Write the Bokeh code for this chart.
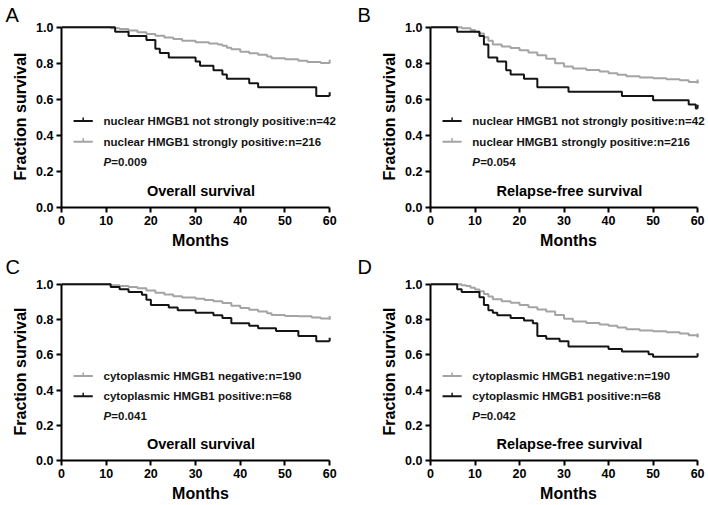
from bokeh.plotting import figure
from bokeh.layouts import gridplot
from bokeh.models import Range1d, FixedTicker, PrintfTickFormatter
from bokeh.core.properties import value
from bokeh.embed import file_html
from bokeh.resources import INLINE

# ---------------- data ----------------
month_ticks = [0, 10, 20, 30, 40, 50, 60]
surv_ticks = [0.0, 0.2, 0.4, 0.6, 0.8, 1.0]

# Panel A: overall survival, nuclear HMGB1
a_black_t = [0, 12, 15, 19, 21, 22, 24, 30, 31, 34, 36, 37, 42, 44, 57, 60]
a_black_s = [1.0, 0.976, 0.952, 0.929, 0.881, 0.857, 0.833, 0.810, 0.786, 0.762, 0.738, 0.714, 0.690, 0.667, 0.619, 0.619]
a_gray_t = [0, 11, 13, 15, 17, 19, 21, 23, 25, 27, 30, 33, 35, 36, 37, 38, 40, 42, 44, 46, 47, 50, 53, 55, 58, 60]
a_gray_s = [1.0, 0.995, 0.99, 0.982, 0.973, 0.963, 0.953, 0.943, 0.935, 0.925, 0.917, 0.91, 0.905, 0.897, 0.887, 0.878, 0.865, 0.856, 0.848, 0.838, 0.828, 0.823, 0.815, 0.808, 0.802, 0.80]

# Panel B: relapse-free survival, nuclear HMGB1
b_black_t = [0, 6, 11, 12, 13, 15, 17, 18, 21, 24, 31, 43, 50, 58, 59.6, 60]
b_black_s = [1.0, 0.976, 0.952, 0.905, 0.833, 0.810, 0.762, 0.738, 0.714, 0.667, 0.643, 0.619, 0.595, 0.571, 0.55, 0.55]
b_gray_t = [0, 7, 9, 10, 11, 12, 13, 14, 16, 18, 20, 22, 24, 26, 28, 30, 32, 35, 38, 40, 42, 44, 47, 50, 53, 56, 58, 60]
b_gray_s = [1.0, 0.995, 0.985, 0.975, 0.965, 0.945, 0.925, 0.905, 0.893, 0.885, 0.872, 0.86, 0.845, 0.825, 0.80, 0.782, 0.772, 0.763, 0.755, 0.745, 0.737, 0.728, 0.722, 0.717, 0.712, 0.706, 0.697, 0.69]

# Panel C: overall survival, cytoplasmic HMGB1
c_black_t = [0, 11, 13, 15, 18, 19, 20, 24, 26, 30, 34, 36, 38, 42, 44, 48, 53, 57, 60]
c_black_s = [1.0, 0.985, 0.971, 0.956, 0.941, 0.912, 0.882, 0.868, 0.853, 0.838, 0.824, 0.809, 0.779, 0.765, 0.750, 0.735, 0.706, 0.676, 0.676]
c_gray_t = [0, 11, 13, 15, 17, 19, 21, 23, 25, 27, 30, 32, 34, 36, 38, 40, 42, 44, 46, 47, 50, 53, 56, 58, 60]
c_gray_s = [1.0, 0.995, 0.99, 0.984, 0.977, 0.965, 0.952, 0.942, 0.932, 0.925, 0.918, 0.91, 0.903, 0.893, 0.878, 0.865, 0.855, 0.846, 0.835, 0.825, 0.82, 0.818, 0.812, 0.806, 0.80]

# Panel D: relapse-free survival, cytoplasmic HMGB1
d_black_t = [0, 6, 7, 11, 12, 13, 14, 15, 18, 21, 23, 24, 26, 29, 31, 40, 43, 49, 50, 60]
d_black_s = [1.0, 0.971, 0.956, 0.926, 0.882, 0.853, 0.838, 0.824, 0.809, 0.794, 0.779, 0.706, 0.691, 0.676, 0.647, 0.632, 0.618, 0.603, 0.588, 0.588]
d_gray_t = [0, 7, 8, 9, 10, 11, 12, 13, 14, 16, 18, 20, 22, 24, 26, 28, 30, 32, 35, 38, 40, 42, 44, 47, 50, 53, 56, 58, 60]
d_gray_s = [1.0, 0.995, 0.99, 0.98, 0.97, 0.96, 0.945, 0.93, 0.915, 0.903, 0.895, 0.882, 0.87, 0.857, 0.845, 0.825, 0.805, 0.788, 0.78, 0.772, 0.765, 0.755, 0.745, 0.738, 0.733, 0.728, 0.72, 0.71, 0.70]

nuc_labels = ["nuclear HMGB1 not strongly positive:n=42", "nuclear HMGB1 strongly positive:n=216"]
cyto_labels = ["cytoplasmic HMGB1 negative:n=190", "cytoplasmic HMGB1 positive:n=68"]
p_values = ["=0.009", "=0.054", "=0.041", "=0.042"]
titles = ["Overall survival", "Relapse-free survival", "Overall survival", "Relapse-free survival"]
letters = ["A", "B", "C", "D"]

# ---------------- style ----------------
BLACK = "#141414"
GRAY = "#a4a4a4"
FONT = "Liberation Sans"
LEG_ROWS = [0.48, 0.365]
P_ROW = 0.255
LEG_X0, LEG_X1 = 2.7, 7.0
TEXT_X = 9.4
TITLE_X, TITLE_Y = 31.2, 0.092


def panel(letter, letter_off, letter_valign, letter_standoff, rows, pval, title,
          width, height, bl, br, bt, bb, x_end):
    p = figure(width=width, height=height, output_backend="svg", toolbar_location=None,
               x_range=Range1d(0, x_end), y_range=Range1d(0, 1.01),
               min_border_left=bl, min_border_right=br, min_border_top=bt, min_border_bottom=bb)
    p.outline_line_color = None
    p.xgrid.visible = False
    p.ygrid.visible = False
    p.background_fill_color = "white"
    p.border_fill_color = "white"
    # panel letter as the figure title
    p.title.text = letter
    p.title.text_font = FONT
    p.title.text_font_size = "20px"
    p.title.text_font_style = "normal"
    p.title.text_color = "black"
    p.title.align = "left"
    p.title.offset = letter_off
    p.title.standoff = letter_standoff
    p.title.vertical_align = letter_valign
    for ax in (p.xaxis[0], p.yaxis[0]):
        ax.axis_line_width = 2
        ax.axis_line_color = "black"
        ax.major_tick_line_width = 2
        ax.major_tick_line_color = "black"
        ax.major_tick_out = 5
        ax.major_tick_in = 0
        ax.minor_tick_line_color = None
        ax.major_label_text_font = FONT
        ax.major_label_text_font_style = "bold"
        ax.major_label_text_font_size = "12.5px"
        ax.major_label_text_color = "black"
        ax.major_label_standoff = 3
        ax.axis_label_text_font = FONT
        ax.axis_label_text_font_style = "bold"
        ax.axis_label_text_font_size = "16px"
        ax.axis_label_text_color = "black"
        ax.axis_label_standoff = 4
    p.xaxis.ticker = FixedTicker(ticks=month_ticks)
    p.xaxis.bounds = (0, 60)
    p.yaxis.ticker = FixedTicker(ticks=surv_ticks)
    p.yaxis.bounds = (0, 1)
    p.yaxis.formatter = PrintfTickFormatter(format="%.1f")
    p.xaxis.axis_label = "Months"
    p.yaxis.axis_label = "Fraction survival"

    # curves: gray first, black on top
    order = sorted(rows, key=lambda r: 0 if r[3] == GRAY else 1)
    for t, s, label, color in order:
        p.step(t, s, mode="after", line_color=color, line_width=2)
        p.segment(x0=[t[-1]], y0=[s[-1]], x1=[t[-1]], y1=[s[-1] + 0.02], line_color=color, line_width=2)
    # legend
    for (t, s, label, color), yrow in zip(rows, LEG_ROWS):
        p.segment(x0=[LEG_X0], y0=[yrow], x1=[LEG_X1], y1=[yrow], line_color=color, line_width=2)
        xm = (LEG_X0 + LEG_X1) / 2
        p.segment(x0=[xm], y0=[yrow], x1=[xm], y1=[yrow + 0.02], line_color=color, line_width=1.5)
        p.text(x=[TEXT_X], y=[yrow], text=[label], text_font=value(FONT), text_font_size=value("11.5px"),
               text_font_style=value("bold"), text_baseline=value("middle"), text_color=BLACK)
    p.text(x=[TEXT_X], y=[P_ROW], text=["P"], text_font=value(FONT), text_font_size=value("11.5px"),
           text_font_style=value("bold italic"), text_baseline=value("middle"), text_color=BLACK)
    p.text(x=[TEXT_X], y=[P_ROW], text=[pval], x_offset=value(7.8), text_font=value(FONT),
           text_font_size=value("11.5px"), text_font_style=value("bold"), text_baseline=value("middle"),
           text_color=BLACK)
    p.text(x=[TITLE_X], y=[TITLE_Y], text=[title], text_font=value(FONT), text_font_size=value("14.5px"),
           text_font_style=value("bold"), text_baseline=value("middle"), text_align=value("center"),
           text_color="black")
    return p


pA = panel("A", -56, "bottom", 0,
           [(a_black_t, a_black_s, nuc_labels[0], BLACK), (a_gray_t, a_gray_s, nuc_labels[1], GRAY)],
           p_values[0], titles[0], 354, 252, 61, 15, 25, 45, 62.2)
pB = panel("B", -73, "bottom", 0,
           [(b_black_t, b_black_s, nuc_labels[0], BLACK), (b_gray_t, b_gray_s, nuc_labels[1], GRAY)],
           p_values[1], titles[1], 352, 252, 76, 0, 25, 45, 62.0)
pC = panel("C", -56, "top", 6,
           [(c_gray_t, c_gray_s, cyto_labels[0], GRAY), (c_black_t, c_black_s, cyto_labels[1], BLACK)],
           p_values[2], titles[2], 354, 252, 61, 15, 29, 42, 62.2)
pD = panel("D", -73, "top", 6,
           [(d_gray_t, d_gray_s, cyto_labels[0], GRAY), (d_black_t, d_black_s, cyto_labels[1], BLACK)],
           p_values[3], titles[3], 352, 252, 76, 0, 29, 42, 62.0)

grid = gridplot([[pA, pB], [pC, pD]], toolbar_location=None)

open("out.html", "w").write(file_html(grid, INLINE))
